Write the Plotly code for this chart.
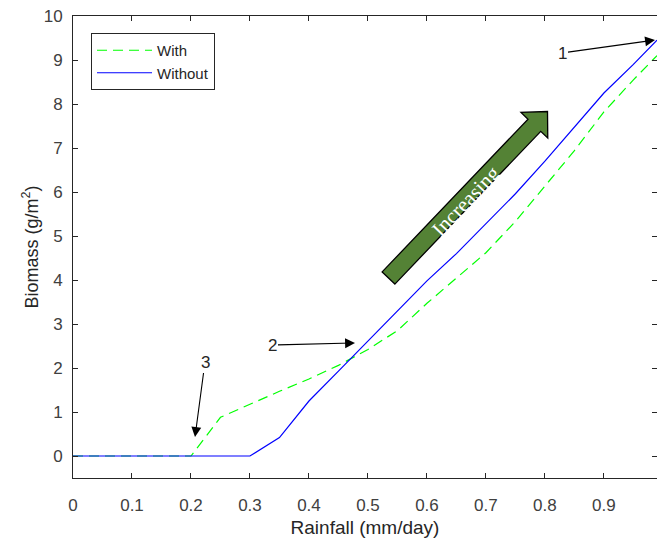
import plotly.graph_objects as go
import math

# ---------------- data ----------------
rain = [0.0, 0.05, 0.10, 0.15, 0.20, 0.25, 0.30, 0.35, 0.40, 0.45, 0.50,
        0.55, 0.60, 0.65, 0.70, 0.75, 0.80, 0.85, 0.90, 0.95, 0.99]
with_biomass = [0, 0, 0, 0, 0, 0.88, 1.18, 1.47, 1.75, 2.06, 2.42,
                2.85, 3.47, 4.05, 4.62, 5.33, 6.13, 6.94, 7.82, 8.55, 9.1]
without_biomass = [0, 0, 0, 0, 0, 0, 0, 0.42, 1.25, 1.93, 2.62,
                   3.30, 3.98, 4.60, 5.27, 5.96, 6.70, 7.48, 8.25, 8.90, 9.45]
x_ticks = [0, 0.1, 0.2, 0.3, 0.4, 0.5, 0.6, 0.7, 0.8, 0.9]
y_ticks = list(range(0, 11))

# layout geometry (pixels)
L, T, W, H = 73, 16, 657, 539
R, B = 0, 61
XR = [0, 0.99]
YR = [-0.5, 10]
pw = W - L - R
ph = H - T - B


def px2d(px, py):
    x = XR[0] + (px - L) / pw * (XR[1] - XR[0])
    y = YR[0] + (T + ph - py) / ph * (YR[1] - YR[0])
    return x, y


fig = go.Figure()
fig.add_trace(go.Scatter(x=rain, y=with_biomass, mode="lines", name="With",
                         line=dict(color="#00ff00", width=1.2, dash="10px,6px")))
fig.add_trace(go.Scatter(x=rain, y=without_biomass, mode="lines", name="Without",
                         line=dict(color="#0000ff", width=1.2)))

# big block arrow "Increasing" (decoration)
tail = (388.5, 278.0)
tip = (547.5, 111.5)
dx, dy = tip[0] - tail[0], tip[1] - tail[1]
ln = math.hypot(dx, dy)
d = (dx / ln, dy / ln)
n = (-d[1], d[0])
sw, hw, hl = 8.8, 18.5, 19.0
base = (tip[0] - d[0] * hl, tip[1] - d[1] * hl)
pts = [
    (tail[0] + n[0] * sw, tail[1] + n[1] * sw),
    (base[0] + n[0] * sw, base[1] + n[1] * sw),
    (base[0] + n[0] * hw, base[1] + n[1] * hw),
    tip,
    (base[0] - n[0] * hw, base[1] - n[1] * hw),
    (base[0] - n[0] * sw, base[1] - n[1] * sw),
    (tail[0] - n[0] * sw, tail[1] - n[1] * sw),
]
path = ""
for i, p in enumerate(pts):
    xd, yd = px2d(*p)
    path += ("M" if i == 0 else "L") + f"{xd:.5f},{yd:.5f} "
path += "Z"
fig.add_shape(type="path", path=path, xref="x", yref="y",
              fillcolor="#548235", line=dict(color="black", width=1.3))
ang = math.degrees(math.atan2(dy, dx))
cx, cy = px2d(466, 201)
fig.add_annotation(x=cx, y=cy, text="Increasing", showarrow=False, textangle=ang,
                   font=dict(family="Liberation Serif", size=21, color="white"))

# numbered arrow annotations
ann = [("1", (655, 40), (562, 53)), ("2", (355, 343), (272, 345)), ("3", (195, 437), (205, 362))]
for txt, tp, tx in ann:
    xd, yd = px2d(*tp)
    fig.add_annotation(x=xd, y=yd, text=txt, showarrow=True, arrowhead=2, arrowsize=1.8,
                       arrowwidth=1.1, arrowcolor="black", ax=tx[0] - tp[0], ay=tx[1] - tp[1],
                       font=dict(family="Liberation Sans", size=17, color="#262626"))

axis_common = dict(showgrid=False, zeroline=False, showline=True, linecolor="#262626",
                   linewidth=1, mirror="ticks", ticks="inside", ticklen=5, tickcolor="#262626",
                   tickfont=dict(family="Liberation Sans", size=17, color="#404040"))
fig.update_xaxes(range=XR, tickvals=x_ticks, ticktext=[f"{v:g}" for v in x_ticks],
                 ticklabelstandoff=12,
                 title=dict(text="Rainfall (mm/day)", standoff=6,
                            font=dict(family="Liberation Sans", size=19, color="#262626")),
                 **axis_common)
fig.update_yaxes(range=YR, tickvals=y_ticks, ticklabelstandoff=6,
                 title=dict(text="Biomass (g/m<sup>2</sup>)", standoff=0,
                            font=dict(family="Liberation Sans", size=18, color="#262626")),
                 **axis_common)

fig.update_layout(width=W, height=H, margin=dict(l=L, r=R, t=T, b=B),
                  paper_bgcolor="white", plot_bgcolor="white",
                  legend=dict(x=(91 - L) / pw, y=(T + ph - 33) / ph, xanchor="left", yanchor="top",
                              bordercolor="#262626", borderwidth=1, bgcolor="white",
                              itemwidth=55, tracegroupgap=0,
                              font=dict(family="Liberation Sans", size=15, color="#262626")),
                  showlegend=True)

fig.write_html("out.html")
